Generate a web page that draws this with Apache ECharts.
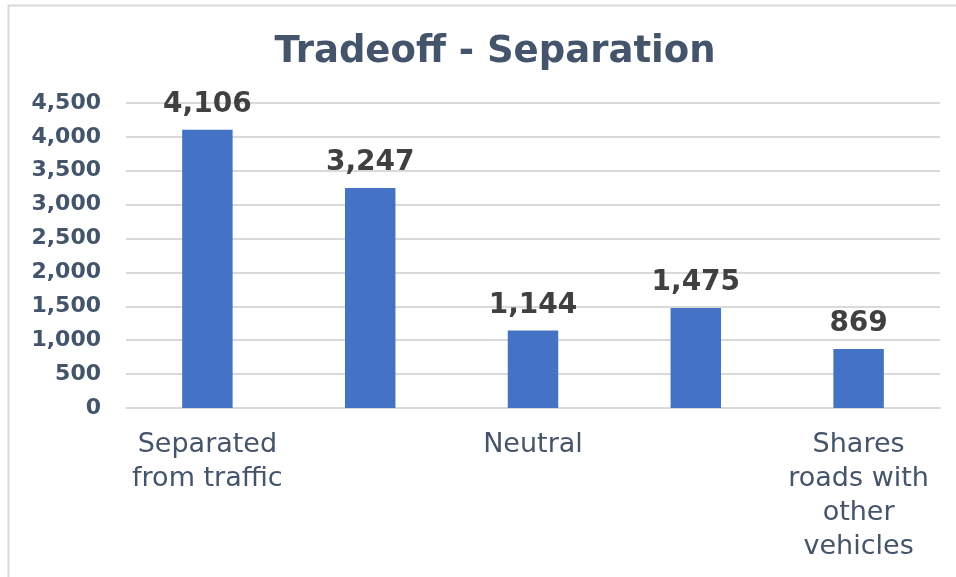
<!DOCTYPE html>
<html><head><meta charset="utf-8">
<script src="https://cdn.jsdelivr.net/npm/echarts@6/dist/echarts.min.js"></script>
<style>html,body{margin:0;padding:0;background:#fff}#c{width:956px;height:577px}</style>
</head><body><div id="c"></div>
<script>
const titleText = 'Tradeoff - Separation';
const categories = ['Separated\nfrom traffic', '', 'Neutral', '', 'Shares\nroads with\nother\nvehicles'];
const values = [4106, 3247, 1144, 1475, 869];
const yMin = 0, yMax = 4500, yStep = 500;

const chart = echarts.init(document.getElementById('c'));
chart.setOption({
  animation: false,
  graphic: [{
    type: 'rect', shape: {x: 8.5, y: 5.5, width: 1200, height: 1200},
    style: {fill: 'none', stroke: '#d9d9d9', lineWidth: 2}, silent: true, z: -1
  }],
  title: {
    text: titleText, left: 490, top: 29, textAlign: 'center',
    textStyle: {fontFamily: 'DejaVu Sans', fontSize: 37, fontWeight: 'bold', color: '#44546A'}
  },
  grid: {left: 126, right: 16, top: 103, bottom: 169, containLabel: false},
  xAxis: {
    type: 'category', data: categories,
    axisLine: {show: true, lineStyle: {color: '#d9d9d9', width: 2}},
    axisTick: {show: false},
    axisLabel: {fontFamily: 'DejaVu Sans', fontSize: 27, color: '#44546A', lineHeight: 34, margin: 20, interval: 0}
  },
  yAxis: {
    type: 'value', min: yMin, max: yMax, interval: yStep,
    axisLine: {show: false}, axisTick: {show: false},
    splitLine: {lineStyle: {color: '#d9d9d9', width: 2}},
    axisLabel: {fontFamily: 'DejaVu Sans', fontSize: 22, fontWeight: 'bold', color: '#44546A', margin: 25,
      formatter: v => v.toLocaleString('en-US')}
  },
  series: [{
    type: 'bar', data: values, barWidth: '31%',
    itemStyle: {color: '#4472C4'},
    label: {show: true, position: 'top', distance: 11, fontFamily: 'DejaVu Sans', fontSize: 28, fontWeight: 'bold', color: '#404040',
      formatter: p => p.value.toLocaleString('en-US')}
  }]
});
</script></body></html>
